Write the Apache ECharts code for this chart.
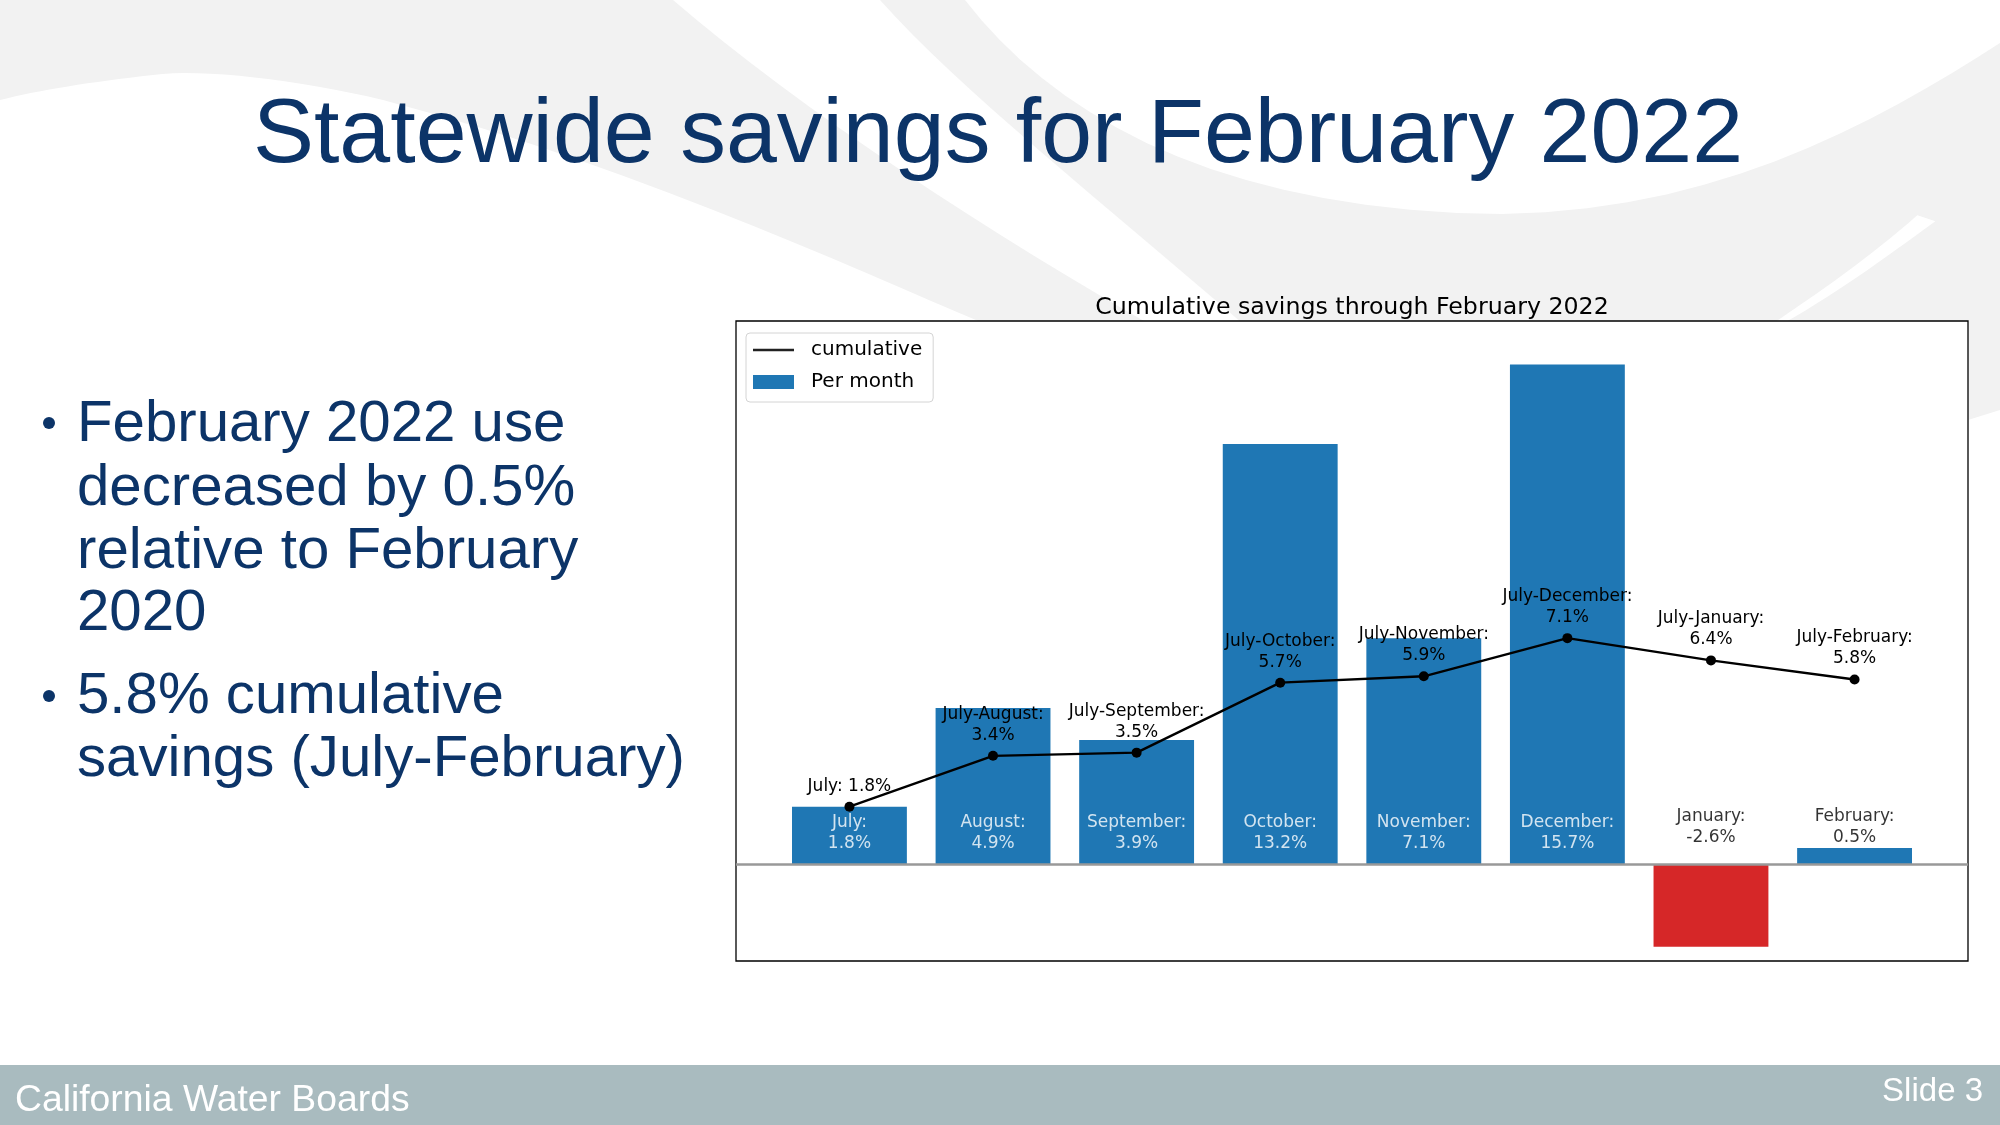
<!DOCTYPE html>
<html>
<head>
<meta charset="utf-8">
<title>Statewide savings for February 2022</title>
<script src="https://cdn.jsdelivr.net/npm/echarts@6/dist/echarts.min.js"></script>
<style>
  html, body { margin: 0; padding: 0; background: #fff; }
  #main { width: 2000px; height: 1125px; }
</style>
</head>
<body>
<div id="main"></div>
<script type="text/javascript">
// data
var months = ['July', 'August', 'September', 'October', 'November', 'December', 'January', 'February'];
var perMonth = [1.8, 4.9, 3.9, 13.2, 7.1, 15.7, -2.6, 0.5];
var cumulative = [1.8, 3.4, 3.5, 5.7, 5.9, 7.1, 6.4, 5.8];

var BLUE = '#1f77b4';
var RED = '#d62728';
var NAVY = '#0c3468';
var BG_GRAY = '#f2f2f2';
var MPL = 'DejaVu Sans';
var SLIDE = '"Liberation Sans", Arial, sans-serif';

// x limits as matplotlib does for 8 bars of width 0.8 (5% margin)
var n = months.length;
var xSpan = (n - 1) + 0.8;
var xMin = -0.4 - 0.05 * xSpan;
var xMax = (n - 1) + 0.4 + 0.05 * xSpan;
// y limits
var yMin = -3.05;
var yMax = 17.07;

var myChart = echarts.init(document.getElementById('main'));

// outline for the background swooshes: [x, y] points or [c1x, c1y, c2x, c2y, x, y] cubic pieces
function outline(parts) {
    var pts = [];
    parts.forEach(function (p) {
        if (p.length === 2) { pts.push(p); return; }
        var a = pts[pts.length - 1];
        for (var t = 1; t <= 16; t++) {
            var s = t / 16, u = 1 - s;
            pts.push([
                u * u * u * a[0] + 3 * u * u * s * p[0] + 3 * u * s * s * p[2] + s * s * s * p[4],
                u * u * u * a[1] + 3 * u * u * s * p[1] + 3 * u * s * s * p[3] + s * s * s * p[5]
            ]);
        }
    });
    return pts;
}

function slideText(x, y, txt, size, color, align) {
    return {
        type: 'text', x: x, y: y, silent: true,
        style: {
            text: txt, fontFamily: SLIDE, fontSize: size, fill: color,
            align: align || 'left', verticalAlign: 'middle'
        }
    };
}

function bulletDot(x, y) {
    return { type: 'circle', silent: true, shape: { cx: x, cy: y, r: 6 }, style: { fill: NAVY } };
}

var graphics = [
    // light grey swooshes behind the slide
    { type: 'polygon', z: -100, silent: true,
      shape: { points: outline([[0, 0], [673, 0], [800, 110, 1000, 240, 1160, 330], [1000, 330],
                                [900, 290, 650, 170, 383, 100], [300, 80, 200, 68, 153, 75],
                                [90, 82, 40, 90, 0, 100]]) },
      style: { fill: BG_GRAY } },
    { type: 'polygon', z: -100, silent: true,
      shape: { points: outline([[880, 0], [965, 0], [1050, 110, 1200, 200, 1457, 213],
                                [1700, 225, 1880, 120, 2000, 43], [2000, 410], [1968, 420],
                                [1968, 330], [1250, 330], [1100, 200, 960, 90, 880, 0]]) },
      style: { fill: BG_GRAY } },
    { type: 'polygon', z: -99, silent: true,
      shape: { points: outline([[1918, 218], [1870, 260, 1820, 295, 1772, 327],
                                [1830, 295, 1885, 255, 1930, 222]]) },
      style: { fill: '#ffffff', stroke: '#ffffff', lineWidth: 5 } },
    // footer band
    { type: 'rect', z: -50, silent: true,
      shape: { x: 0, y: 1065, width: 2000, height: 60 },
      style: { fill: '#a9bbbf' } },
    slideText(15, 1101, 'California Water Boards', 37.3, '#ffffff'),
    slideText(1983, 1092, 'Slide 3', 33, '#ffffff', 'right'),
    // slide title
    slideText(998, 137, 'Statewide savings for February 2022', 91.5, NAVY, 'center'),
    // bullets
    bulletDot(49, 423),
    slideText(77, 425, 'February 2022 use', 58.2, NAVY),
    slideText(77, 489, 'decreased by 0.5%', 58.2, NAVY),
    slideText(77, 552, 'relative to February', 58.2, NAVY),
    slideText(77, 614, '2020', 58.2, NAVY),
    bulletDot(49, 696),
    slideText(77, 697, '5.8% cumulative', 58.2, NAVY),
    slideText(77, 760, 'savings (July-February)', 58.2, NAVY),
    // chart title (matplotlib axes title)
    { type: 'text', x: 1352, y: 308, silent: true,
      style: { text: 'Cumulative savings through February 2022', fontFamily: MPL, fontSize: 23.7,
               fill: '#000', align: 'center', verticalAlign: 'middle' } }
];

var option = {
    animation: false,
    backgroundColor: '#ffffff',
    graphic: graphics,
    grid: {
        left: 736, top: 321, width: 1232, height: 640,
        show: true, backgroundColor: '#ffffff', borderColor: '#000', borderWidth: 1.3
    },
    legend: {
        orient: 'vertical',
        left: 746, top: 333,
        padding: [7, 11, 10, 7],
        itemWidth: 41, itemHeight: 14, itemGap: 12,
        backgroundColor: '#ffffff', borderColor: '#d4d4d4', borderWidth: 1, borderRadius: 4,
        textStyle: { fontFamily: MPL, fontSize: 20, color: '#000', padding: [0, 0, 0, 12] },
        selectedMode: false,
        data: [
            { name: 'cumulative', icon: 'path://M0 0H40V2.6H0Z', itemStyle: { color: '#222' } },
            { name: 'Per month', icon: 'rect', itemStyle: { color: BLUE } }
        ]
    },
    xAxis: {
        type: 'value', min: xMin, max: xMax,
        axisLine: { show: false }, axisTick: { show: false },
        axisLabel: { show: false }, splitLine: { show: false }
    },
    yAxis: {
        type: 'value', min: yMin, max: yMax,
        axisLine: { show: false }, axisTick: { show: false },
        axisLabel: { show: false }, splitLine: { show: false }
    },
    series: [
        {
            name: 'Per month',
            type: 'bar',
            barWidth: '80%',
            data: perMonth.map(function (v, i) { return [i, v]; }),
            itemStyle: {
                color: function (p) { return p.value[1] < 0 ? RED : BLUE; }
            },
            emphasis: { disabled: true },
            markLine: {
                silent: true, symbol: 'none', animation: false,
                label: { show: false },
                lineStyle: { color: '#999999', width: 2.5, type: 'solid' },
                data: [{ yAxis: 0 }]
            },
            z: 2
        },
        {
            // per-month text, anchored on the zero line
            name: 'monthLabels',
            type: 'scatter',
            silent: true,
            symbolSize: 0,
            data: perMonth.map(function (v, i) {
                var inside = v >= 1.5;
                return {
                    value: [i, 0],
                    label: { color: inside ? '#ffffff' : '#000000', distance: inside ? 10 : 16 }
                };
            }),
            label: {
                show: true, position: 'top',
                fontFamily: MPL, fontSize: 17, lineHeight: 21, align: 'center',
                formatter: function (p) {
                    return months[p.dataIndex] + ':\n' + perMonth[p.dataIndex].toFixed(1) + '%';
                }
            },
            z: 4
        },
        {
            name: 'cumulative',
            type: 'line',
            data: cumulative.map(function (v, i) { return [i, v]; }),
            color: '#000',
            lineStyle: { color: '#000', width: 2.4 },
            itemStyle: { color: '#000' },
            symbol: 'circle', symbolSize: 10,
            emphasis: { disabled: true },
            label: {
                show: true, position: 'top', distance: 5,
                fontFamily: MPL, fontSize: 17, lineHeight: 21, color: '#000', align: 'center',
                formatter: function (p) {
                    var i = p.dataIndex;
                    var pct = cumulative[i].toFixed(1) + '%';
                    return i === 0 ? months[0] + ': ' + pct : 'July-' + months[i] + ':\n' + pct;
                }
            },
            z: 5
        }
    ]
};

myChart.setOption(option);
</script>
</body>
</html>
